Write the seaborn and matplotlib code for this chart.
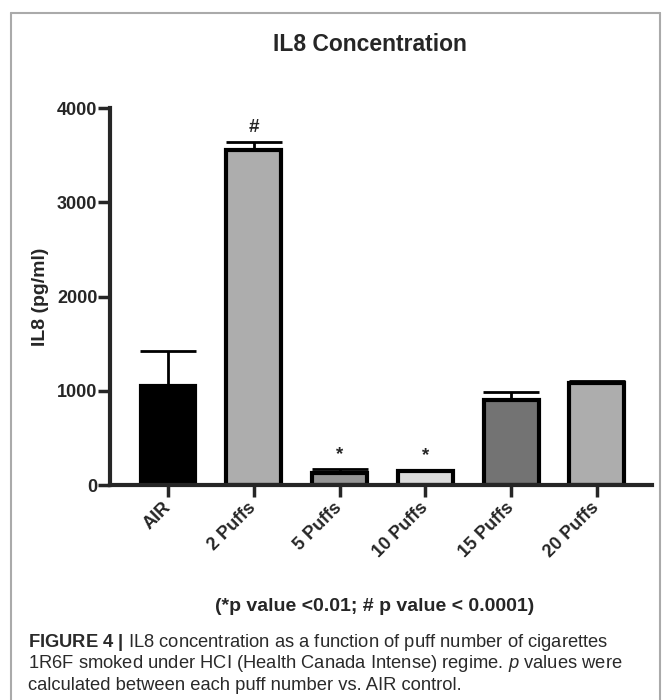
import numpy as np
import pandas as pd
import seaborn as sns
import matplotlib.pyplot as plt
from matplotlib.lines import Line2D

# IL8 concentration by puff number (mean and upper error)
groups = ["AIR", "2 Puffs", "5 Puffs", "10 Puffs", "15 Puffs", "20 Puffs"]
il8_mean = [1055, 3555, 125, 145, 905, 1085]
il8_err = [365, 85, 45, 20, 85, 15]
marks = ["", "#", "*", "*", "", ""]
bar_colors = ["#000000", "#adadad", "#959595", "#dcdcdc", "#737373", "#adadad"]

df = pd.DataFrame({"Group": groups, "IL8": il8_mean})

sns.set_style("ticks")
plt.rcParams['font.family'] = ['Liberation Sans', 'DejaVu Sans']
plt.rcParams['mathtext.fontset'] = 'custom'
plt.rcParams['mathtext.rm'] = 'Liberation Sans'
plt.rcParams['mathtext.bf'] = 'Liberation Sans:bold'
plt.rcParams['mathtext.it'] = 'Liberation Sans:italic'

fig = plt.figure(figsize=(6.63, 7.0), dpi=100)
ax = fig.add_axes([0.1659, 0.307, 0.8171, 0.5387])

sns.barplot(x="Group", y="IL8", hue="Group", data=df, palette=bar_colors,
            legend=False, errorbar=None, width=0.64, edgecolor="black",
            linewidth=3, ax=ax)
ax.errorbar(x=np.arange(len(groups)), y=il8_mean,
            yerr=[np.zeros(len(groups)), il8_err], fmt="none",
            ecolor="black", elinewidth=2, capsize=20, capthick=2, zorder=1)

for i, m in enumerate(marks):
    if m:
        ax.text(i, il8_mean[i] + il8_err[i] + 60, m, ha="center", va="bottom",
                fontsize=13.5, fontweight="bold")

ax.set_ylim(0, 4000)
ax.set_xlim(-0.676, 5.64)
ax.set_yticks([0, 1000, 2000, 3000, 4000])
ax.set_ylabel("IL8 (pg/ml)", fontsize=14, fontweight="bold", labelpad=6)
ax.set_xlabel("(*p value <0.01; # p value < 0.0001)", fontsize=14,
              fontweight="bold")
ax.xaxis.set_label_coords(0.488, -0.30)
ax.set_title("IL8 Concentration", fontsize=16.5, fontweight="bold", pad=0,
             x=0.48, y=1.152)

sns.despine(ax=ax)
for s in ["left", "bottom"]:
    ax.spines[s].set_linewidth(3)
ax.tick_params(axis="both", width=2.5, length=8.5, labelsize=12.5)
ax.tick_params(axis="y", pad=0.5, labelsize=13)
ax.tick_params(axis="x", pad=6)
for lab in ax.get_yticklabels():
    lab.set_fontweight("bold")
plt.setp(ax.get_xticklabels(), rotation=45, ha="right", va="center",
         rotation_mode="anchor", fontweight="bold", fontsize=13)

# caption below the chart
cap_kw = dict(fontsize=13.2, color="#2a2a2a")
fig.text(0.042, 0.076, r"$\bf{FIGURE\ 4\ |}$ IL8 concentration as a function of puff number of cigarettes",
         **cap_kw)
fig.text(0.042, 0.045, "1R6F smoked under HCI (Health Canada Intense) regime. $\\it{p}$ values were",
         **cap_kw)
fig.text(0.042, 0.014, "calculated between each puff number vs. AIR control.", **cap_kw)

# panel frame
frame_col = "#aaaaaa"
fig.add_artist(Line2D([0.016, 0.016], [0, 0.981], color=frame_col, lw=1.5))
fig.add_artist(Line2D([0.996, 0.996], [0, 0.981], color=frame_col, lw=1.5))
fig.add_artist(Line2D([0.016, 0.996], [0.981, 0.981], color=frame_col, lw=1.5))

fig.savefig("out.png", dpi=100)
